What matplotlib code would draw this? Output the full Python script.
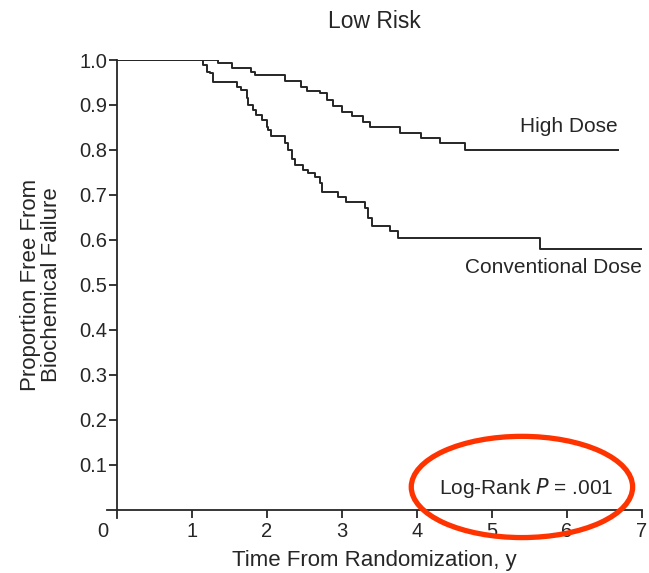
import matplotlib.pyplot as plt
from matplotlib.patches import Ellipse

plt.rcParams['font.family'] = ['Liberation Sans', 'DejaVu Sans']

# Kaplan-Meier step data (time in years, proportion free from failure)
high_t = [0, 1.35, 1.53, 1.79, 1.84, 2.24, 2.46, 2.53, 2.71, 2.80, 2.88, 3.00,
          3.13, 3.28, 3.37, 3.77, 4.06, 4.31, 4.64, 6.68]
high_s = [1.0, 0.993, 0.982, 0.974, 0.967, 0.954, 0.941, 0.931, 0.926, 0.91,
          0.897, 0.885, 0.876, 0.863, 0.852, 0.838, 0.826, 0.816, 0.80, 0.80]

conv_t = [0, 1.15, 1.20, 1.24, 1.28, 1.60, 1.66, 1.73, 1.75, 1.82, 1.86, 1.93,
          2.00, 2.02, 2.06, 2.24, 2.28, 2.33, 2.37, 2.48, 2.55, 2.64, 2.71, 2.73,
          2.95, 3.06, 3.31, 3.35, 3.40, 3.64, 3.75, 5.64, 7.0]
conv_s = [1.0, 0.989, 0.974, 0.970, 0.950, 0.941, 0.933, 0.915, 0.900, 0.889,
          0.878, 0.867, 0.852, 0.844, 0.830, 0.815, 0.800, 0.781, 0.767, 0.756,
          0.748, 0.741, 0.726, 0.707, 0.696, 0.685, 0.670, 0.648, 0.630, 0.619,
          0.604, 0.579, 0.579]

x_ticks = [1, 2, 3, 4, 5, 6, 7]
y_ticks = [0.1, 0.2, 0.3, 0.4, 0.5, 0.6, 0.7, 0.8, 0.9, 1.0]

fig = plt.figure(figsize=(6.49, 5.73), dpi=100)
ax = fig.add_axes([107 / 649, 55 / 573, 535 / 649, 458 / 573])

ink = '#262626'
ax.step(high_t, high_s, where='post', color=ink, lw=1.4)
ax.step(conv_t, conv_s, where='post', color=ink, lw=1.4)

ax.set_xlim(-0.13, 7.0)
ax.set_ylim(-0.018, 1.0)
for s in ['top', 'right']:
    ax.spines[s].set_visible(False)
ax.spines['left'].set_position(('data', 0))
ax.spines['bottom'].set_position(('data', 0))
for s in ['left', 'bottom']:
    ax.spines[s].set_linewidth(1.3)
    ax.spines[s].set_color(ink)

ax.set_xticks(x_ticks)
ax.set_xticklabels([str(v) for v in x_ticks])
ax.set_yticks(y_ticks)
ax.set_yticklabels([f'{v:.1f}' for v in y_ticks])
ax.tick_params(direction='out', length=6, width=1.3, colors=ink,
               labelsize=14.5)
ax.tick_params(axis='y', pad=1)
ax.tick_params(axis='x', pad=3)

# shared origin label
ax.text(-0.19, -0.049, '0', ha='center', va='center', fontsize=14.5, color=ink)

ax.set_title('Low Risk', fontsize=16.5, color=ink, pad=23)
ax.set_xlabel('Time From Randomization, y', fontsize=16, color=ink, labelpad=6)
fig.text(41 / 649, (573 - 285) / 573, 'Proportion Free From\nBiochemical Failure',
         rotation=90, ha='center', va='center', fontsize=16, color=ink,
         linespacing=1.0)

ax.text(6.68, 0.853, 'High Dose', ha='right', va='center', fontsize=15, color=ink)
ax.text(7.0, 0.538, 'Conventional Dose', ha='right', va='center', fontsize=15,
        color=ink)
ax.text(5.46, 0.049, 'Log-Rank $\\it{P}$ = .001', ha='center', va='center',
        fontsize=15, color=ink)

ax.add_patch(Ellipse((5.4, 0.051), 2.95, 0.225, fill=False,
                     edgecolor='#ff3300', lw=3.8, clip_on=False, zorder=5))

fig.savefig('out.png', dpi=100)
